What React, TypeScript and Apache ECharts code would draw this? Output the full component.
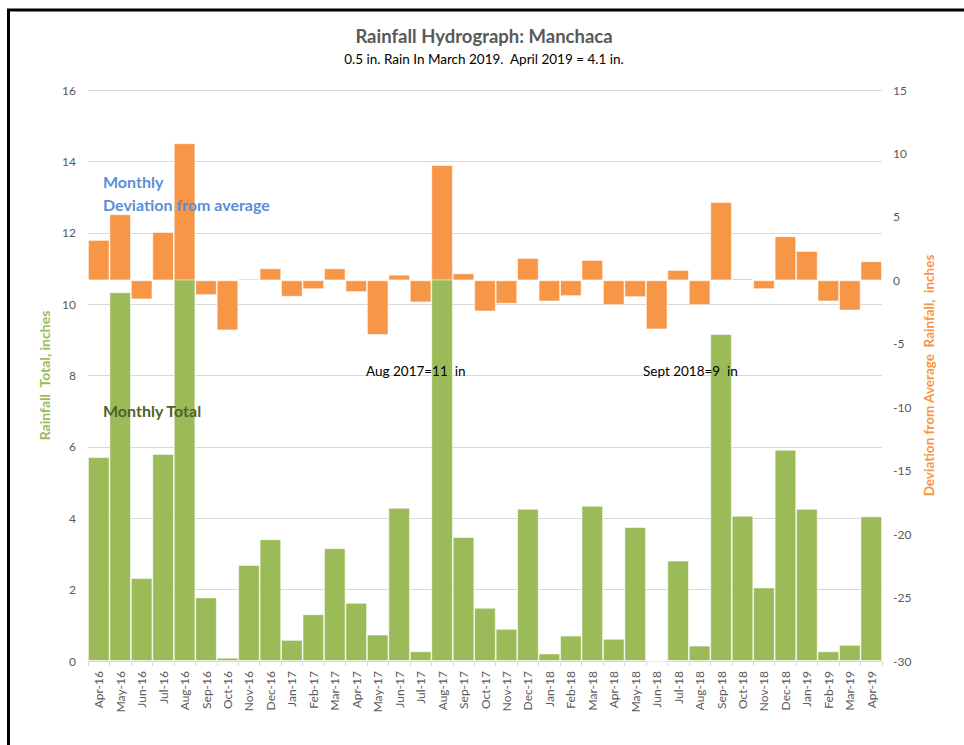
import React, { useEffect, useRef } from "react";
import * as echarts from "echarts";

const months = [
  "Apr-16", "May-16", "Jun-16", "Jul-16", "Aug-16", "Sep-16", "Oct-16", "Nov-16", "Dec-16",
  "Jan-17", "Feb-17", "Mar-17", "Apr-17", "May-17", "Jun-17", "Jul-17", "Aug-17", "Sep-17",
  "Oct-17", "Nov-17", "Dec-17", "Jan-18", "Feb-18", "Mar-18", "Apr-18", "May-18", "Jun-18",
  "Jul-18", "Aug-18", "Sep-18", "Oct-18", "Nov-18", "Dec-18", "Jan-19", "Feb-19", "Mar-19",
  "Apr-19",
];

const monthlyTotal = [
  5.71, 10.33, 2.32, 5.8, 13.0, 1.78, 0.09, 2.69, 3.41,
  0.59, 1.31, 3.16, 1.63, 0.74, 4.29, 0.27, 11.0, 3.47,
  1.49, 0.9, 4.26, 0.21, 0.71, 4.35, 0.62, 3.75, 0,
  2.81, 0.43, 9.16, 4.07, 2.06, 5.92, 4.26, 0.27, 0.45,
  4.05,
];

const deviation = [
  3.18, 5.2, -1.5, 3.81, 10.8, -1.16, -3.94, 0.12, 0.94,
  -1.29, -0.69, 0.94, -0.92, -4.31, 0.44, -1.73, 9.08, 0.55,
  -2.45, -1.84, 1.76, -1.66, -1.24, 1.6, -1.95, -1.32, -3.86,
  0.81, -1.95, 6.17, 0.14, -0.69, 3.47, 2.31, -1.66, -2.37,
  1.5,
];

const FONT = "Lato, 'Liberation Sans', sans-serif";

export default function App() {
  const ref = useRef<HTMLDivElement>(null);
  useEffect(() => {
    if (!ref.current) return;
    const chart = echarts.init(ref.current, null, { renderer: "svg" });
    chart.setOption({
      animation: false,
      backgroundColor: "#ffffff",
      textStyle: { fontFamily: FONT },
      title: {
        text: "Rainfall Hydrograph: Manchaca",
        subtext: "0.5 in. Rain In March 2019.  April 2019 = 4.1 in.",
        left: 479,
        textAlign: "center",
        top: 21,
        itemGap: 7,
        textStyle: { fontFamily: FONT, fontSize: 18.5, fontWeight: "bold", color: "#595959" },
        subtextStyle: { fontFamily: FONT, fontSize: 13.5, color: "#000000" },
      },
      grid: { left: 88, right: 82, top: 90, bottom: 84, containLabel: false },
      xAxis: {
        type: "category",
        data: months,
        axisLine: { show: true, lineStyle: { color: "#d9d9d9", width: 1 } },
        axisTick: { show: true, alignWithLabel: false, length: 5, lineStyle: { color: "#d9d9d9" } },
        axisLabel: { rotate: 90, interval: 0, margin: 10, fontSize: 12, color: "#595959", fontFamily: FONT },
      },
      yAxis: [
        {
          type: "value",
          min: 0,
          max: 16,
          interval: 2,
          name: "Rainfall  Total, inches",
          nameLocation: "middle",
          nameGap: 27,
          nameRotate: 90,
          nameTextStyle: { color: "#9bbb59", fontWeight: "bold", fontSize: 14, fontFamily: FONT },
          axisLine: { show: false },
          axisTick: { show: false },
          axisLabel: { fontSize: 12, color: "#595959", margin: 12, fontFamily: FONT },
          splitLine: { show: true, lineStyle: { color: "#d9d9d9", width: 1 } },
        },
        {
          type: "value",
          min: -30,
          max: 15,
          interval: 5,
          position: "right",
          name: "Deviation from Average  Rainfall,  inches",
          nameLocation: "middle",
          nameGap: 31,
          nameRotate: 90,
          nameTextStyle: { color: "#f79646", fontWeight: "bold", fontSize: 13.5, fontFamily: FONT },
          axisLine: { show: false },
          axisTick: { show: false },
          axisLabel: { fontSize: 12, color: "#595959", margin: 11, fontFamily: FONT },
          splitLine: { show: false },
        },
      ],
      series: [
        {
          name: "Monthly Total",
          type: "bar",
          yAxisIndex: 0,
          data: monthlyTotal,
          barCategoryGap: "0%",
          barGap: "-100%",
          itemStyle: { color: "#9bbb59", borderColor: "rgba(255,255,255,0.7)", borderWidth: 0.8 },
          z: 2,
        },
        {
          name: "Deviation",
          type: "bar",
          yAxisIndex: 1,
          data: deviation,
          barCategoryGap: "0%",
          barGap: "-100%",
          itemStyle: { color: "#f79646", borderColor: "rgba(255,255,255,0.7)", borderWidth: 0.8 },
          z: 3,
        },
      ],
      graphic: [
        {
          type: "rect",
          shape: { x: 8.5, y: 10, width: 980, height: 800 },
          style: { fill: "none", stroke: "#000000", lineWidth: 3 },
          silent: true,
          z: 100,
        },
        {
          type: "text",
          x: 103,
          y: 181,
          style: { text: "Monthly", fill: "#5b8ed6", font: `bold 16px ${FONT}`, verticalAlign: "middle" },
          z: 50,
        },
        {
          type: "text",
          x: 103,
          y: 204,
          style: { text: "Deviation from average", fill: "#5b8ed6", font: `bold 16px ${FONT}`, verticalAlign: "middle" },
          z: 50,
        },
        {
          type: "text",
          x: 103,
          y: 410,
          style: { text: "Monthly Total", fill: "#4f6228", font: `bold 16px ${FONT}`, verticalAlign: "middle" },
          z: 50,
        },
        {
          type: "text",
          x: 366,
          y: 371,
          style: { text: "Aug 2017=11  in", fill: "#000000", font: `13.5px ${FONT}`, verticalAlign: "middle" },
          z: 50,
        },
        {
          type: "text",
          x: 643,
          y: 371,
          style: { text: "Sept 2018=9  in", fill: "#000000", font: `13.5px ${FONT}`, verticalAlign: "middle" },
          z: 50,
        },
      ],
    });
    return () => chart.dispose();
  }, []);
  return <div ref={ref} style={{ width: 964, height: 745, position: "absolute", left: 0, top: 0 }} />;
}
